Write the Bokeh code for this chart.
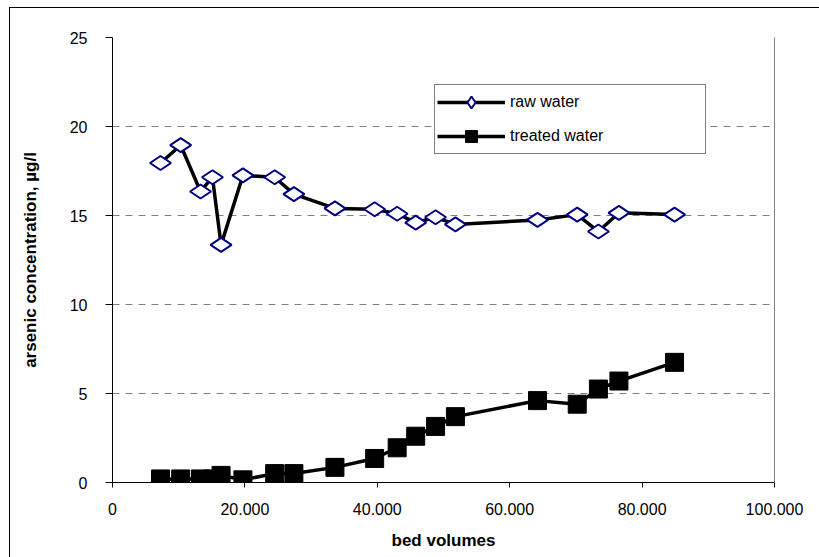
import math
from bokeh.plotting import figure
from bokeh.models import (Range1d, FixedTicker, LinearAxis, Legend, LegendItem,
                          ColumnDataSource)
from bokeh.embed import file_html
from bokeh.resources import INLINE

# ---- data ----
bed_volumes = [7250, 10300, 13300, 15100, 16400, 19700, 24500, 27400, 33600,
               39600, 43000, 45800, 48800, 51800, 64200, 70200, 73400, 76500, 84900]
raw_water = [17.95, 18.95, 16.35, 17.15, 13.35, 17.25, 17.15, 16.2, 15.4,
             15.35, 15.1, 14.6, 14.9, 14.5, 14.75, 15.05, 14.1, 15.15, 15.05]
treated_water = [0.2, 0.2, 0.2, 0.2, 0.4, 0.15, 0.5, 0.5, 0.85,
                 1.35, 1.95, 2.6, 3.15, 3.7, 4.6, 4.4, 5.25, 5.7, 6.75]

x_ticks = [0, 20000, 40000, 60000, 80000, 100000]
x_tick_labels = ["0", "20.000", "40.000", "60.000", "80.000", "100.000"]
y_ticks = [0, 5, 10, 15, 20, 25]
y_tick_labels = ["0", "5", "10", "15", "20", "25"]

series_labels = ["raw water", "treated water"]
x_title = "bed volumes"
y_title = "arsenic concentration, µg/l"

FONT = "Liberation Sans"

src = ColumnDataSource(dict(bed_volumes=bed_volumes, raw_water=raw_water,
                            treated_water=treated_water))

p = figure(width=819, height=557, output_backend="svg", toolbar_location=None,
           x_range=Range1d(0, 100000), y_range=Range1d(0, 25),
           min_border_left=112, min_border_right=45, min_border_top=37,
           min_border_bottom=75,
           styles={"box-shadow": "inset 9px 7px 0 0 #fff, inset 10px 8px 0 0 #000"})
p.outline_line_color = None
p.background_fill_color = "white"
p.border_fill_color = None

# grids
p.xgrid.visible = False
p.ygrid.ticker = FixedTicker(ticks=y_ticks)
p.ygrid.grid_line_color = "#808080"
p.ygrid.grid_line_dash = "7 6"
p.ygrid.grid_line_width = 1

# x axis
xa = p.xaxis[0]
xa.ticker = FixedTicker(ticks=x_ticks)
xa.major_label_overrides = {t: l for t, l in zip(x_ticks, x_tick_labels)}
xa.major_tick_out = 5
xa.major_tick_in = 0
xa.minor_tick_line_color = None
xa.axis_line_color = "black"
xa.major_tick_line_color = "black"
xa.major_label_standoff = 15
xa.major_label_text_font = FONT
xa.major_label_text_font_size = "16px"
xa.major_label_text_color = "black"
xa.axis_label = x_title
xa.axis_label_text_font = FONT
xa.axis_label_text_font_style = "bold"
xa.axis_label_text_font_size = "17px"
xa.axis_label_text_color = "black"
xa.axis_label_standoff = 13

# y axis
ya = p.yaxis[0]
ya.ticker = FixedTicker(ticks=y_ticks)
ya.major_label_overrides = {t: l for t, l in zip(y_ticks, y_tick_labels)}
ya.major_tick_out = 7
ya.major_tick_in = 0
ya.minor_tick_line_color = None
ya.axis_line_color = "black"
ya.major_tick_line_color = "black"
ya.major_label_standoff = 18
ya.major_label_text_font = FONT
ya.major_label_text_font_size = "16px"
ya.major_label_text_color = "black"
ya.axis_label = y_title
ya.axis_label_text_font = FONT
ya.axis_label_text_font_style = "bold"
ya.axis_label_text_font_size = "17px"
ya.axis_label_text_color = "black"
ya.axis_label_standoff = 27

# right frame line
ra = LinearAxis(ticker=FixedTicker(ticks=[]), axis_line_color="#808080",
                major_tick_line_color=None, minor_tick_line_color=None,
                major_label_text_font_size="0px", major_label_standoff=0)
p.add_layout(ra, "right")

# series
r_raw_line = p.line("bed_volumes", "raw_water", source=src, line_color="black",
                    line_width=3.5)
r_raw_pts = p.scatter("bed_volumes", "raw_water", source=src, marker="diamond",
                      size=21, angle=math.pi / 2, fill_color="white",
                      line_color="#000080", line_width=2)
r_tr_line = p.line("bed_volumes", "treated_water", source=src, line_color="black",
                   line_width=3.5)
r_tr_pts = p.scatter("bed_volumes", "treated_water", source=src, marker="square",
                     size=18, fill_color="black", line_color="black", line_width=1)

legend = Legend(
    items=[LegendItem(label=series_labels[0], renderers=[r_raw_line, r_raw_pts]),
           LegendItem(label=series_labels[1], renderers=[r_tr_line, r_tr_pts])],
    location=(322, 328), orientation="vertical",
    glyph_width=68, glyph_height=30, label_height=30, label_width=193,
    label_standoff=5, spacing=4, padding=2, margin=0,
    border_line_color="black", border_line_width=1,
    background_fill_color="white", background_fill_alpha=1.0,
    label_text_font=FONT, label_text_font_size="16px", label_text_color="black",
)
p.add_layout(legend)

open("out.html", "w").write(file_html(p, INLINE))
